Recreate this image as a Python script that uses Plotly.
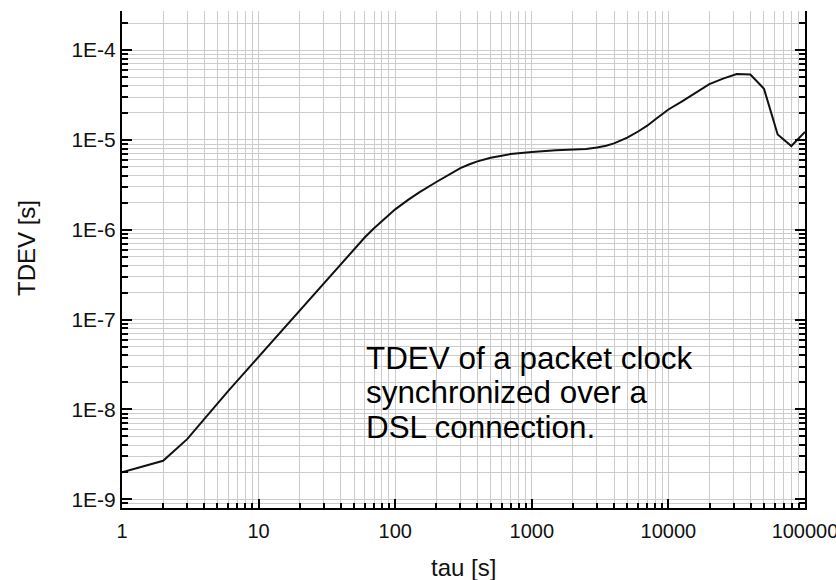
import math
import plotly.graph_objects as go

# Averaging time tau [s] and measured time deviation TDEV [s]
tau = [1, 2, 3, 4, 5, 6, 7, 8, 9, 10,
       20, 30, 40, 50, 60, 70, 80, 90, 100,
       125, 150, 200, 250, 300, 350, 400, 500, 600, 700, 800, 900, 1000,
       1500, 2000, 2500, 3000, 3500, 4000, 5000, 6000, 7000, 8000, 9000, 10000,
       12589, 15849, 19953, 25119, 31623, 39811, 50119, 63096, 79433, 100000]
tdev = [2.0e-9, 2.68e-9, 4.67e-9, 7.9e-9, 1.17e-8, 1.61e-8, 2.09e-8, 2.63e-8, 3.21e-8, 3.87e-8,
        1.28e-7, 2.56e-7, 4.22e-7, 6.17e-7, 8.25e-7, 1.04e-6, 1.257e-6, 1.472e-6, 1.687e-6,
        2.166e-6, 2.61e-6, 3.4e-6, 4.17e-6, 4.85e-6, 5.36e-6, 5.77e-6, 6.33e-6, 6.69e-6,
        6.95e-6, 7.12e-6, 7.25e-6, 7.35e-6,
        7.65e-6, 7.78e-6, 7.92e-6, 8.22e-6, 8.6e-6, 9.15e-6, 1.06e-5, 1.24e-5, 1.44e-5,
        1.69e-5, 1.95e-5, 2.18e-5,
        2.69e-5, 3.32e-5, 4.18e-5, 4.81e-5, 5.4e-5, 5.33e-5, 3.7e-5, 1.15e-5, 8.55e-6, 1.23e-5]

x_tickvals = [1, 10, 100, 1000, 10000, 100000]
x_ticktext = ["1", "10", "100", "1000", "10000", "100000"]
y_tickvals = [1e-9, 1e-8, 1e-7, 1e-6, 1e-5, 1e-4]
y_ticktext = ["1E-9", "1E-8", "1E-7", "1E-6", "1E-5", "1E-4"]

x_title = "tau [s]"
y_title = "TDEV [s]"
note_lines = ["TDEV of a packet clock", "synchronized over a", "DSL connection."]

FONT = "Liberation Sans, Arial, sans-serif"
GRID = "#cccccc"
INK = "#111111"

x_range = [0, 5]
y_range = [math.log10(8.0e-10), math.log10(2.72e-4)]

fig = go.Figure()
fig.add_trace(go.Scatter(
    x=tau, y=tdev, mode="lines",
    line=dict(color="#111111", width=2),
    showlegend=False, hoverinfo="x+y",
))

fig.update_layout(
    width=836, height=580,
    margin=dict(l=122, r=31, t=11, b=72, autoexpand=False),
    paper_bgcolor="white", plot_bgcolor="white",
    font=dict(family=FONT, color=INK),
    showlegend=False,
    xaxis=dict(
        type="log", range=x_range, automargin=False,
        tickvals=x_tickvals, ticktext=x_ticktext,
        tickfont=dict(size=20, family=FONT, color=INK),
        ticklabeloverflow="allow", ticklabelstandoff=4,
        ticks="inside", ticklen=9, tickwidth=2, tickcolor="#000",
        showline=True, linecolor="#000", linewidth=2, mirror=False,
        showgrid=True, gridcolor=GRID, gridwidth=1,
        minor=dict(dtick="D1", ticks="inside", ticklen=5, tickwidth=1.5,
                   tickcolor="#000", showgrid=True, gridcolor=GRID, gridwidth=1),
        zeroline=False,
    ),
    xaxis2=dict(
        type="log", range=x_range, overlaying="x", side="top", automargin=False,
        tickvals=x_tickvals, showticklabels=False,
        ticks="inside", ticklen=4, tickwidth=2, tickcolor="#000",
        showline=False, showgrid=False, zeroline=False,
        minor=dict(dtick="D1", ticks="inside", ticklen=2, tickwidth=2,
                   tickcolor="#000", showgrid=False),
    ),
    yaxis=dict(
        type="log", range=y_range, automargin=False,
        tickvals=y_tickvals, ticktext=y_ticktext,
        tickfont=dict(size=21, family=FONT, color=INK),
        ticks="inside", ticklen=10, tickwidth=2, tickcolor="#000",
        showline=True, linecolor="#000", linewidth=2, mirror="ticks",
        showgrid=True, gridcolor=GRID, gridwidth=1,
        minor=dict(dtick="D1", ticks="inside", ticklen=6, tickwidth=1.5,
                   tickcolor="#000", showgrid=True, gridcolor=GRID, gridwidth=1),
        zeroline=False,
    ),
)

# Axis titles
fig.add_annotation(
    x=0.5, y=0.0, xref="paper", yref="paper", text=x_title, showarrow=False,
    xanchor="center", yanchor="middle", yshift=-(567 - 508),
    font=dict(size=24, family=FONT, color=INK),
)
fig.add_annotation(
    x=0.0, y=0.0, xref="paper", yref="paper", text=y_title, showarrow=False,
    textangle=-90, xanchor="center", yanchor="middle",
    xshift=26 - 122, yshift=508 - 248,
    font=dict(size=24, family=FONT, color=INK),
)

# Three-line note placed inside the plot area
for i, line in enumerate(note_lines):
    fig.add_annotation(
        x=0.0, y=0.0, xref="paper", yref="paper",
        text=line, showarrow=False,
        xanchor="left", yanchor="middle",
        xshift=364 - 122, yshift=(508 - 358) - 34.5 * i,
        font=dict(size=31.4, family=FONT, color="#000"),
    )

fig.write_html("out.html")
